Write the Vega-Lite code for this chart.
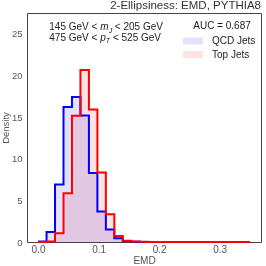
{
  "$schema": "https://vega.github.io/schema/vega-lite/v6.json",
  "width": 234,
  "height": 229,
  "autosize": {"type": "none"},
  "padding": {"left": 27, "top": 13, "right": 5, "bottom": 24},
  "background": "white",
  "title": {"text": "2-Ellipsiness: EMD, PYTHIA8", "anchor": "end", "fontSize": 11.5, "font": "Liberation Sans", "fontWeight": "normal", "color": "#333", "offset": 1.5},
  "config": {
    "font": "Liberation Sans",
    "view": {"stroke": "#444", "strokeWidth": 1},
    "axis": {"grid": false, "ticks": false, "tickSize": 0, "domain": false, "labelFontSize": 10, "labelColor": "#555", "titleFontSize": 10, "titleColor": "#555", "titleFontWeight": "normal"},
    "legend": {"padding": 0, "titleFontSize": 10, "titleFontWeight": "normal", "titleColor": "#222", "titleAnchor": "middle", "titleAlign": "center", "labelFontSize": 10, "labelColor": "#222", "symbolType": "M-2,-0.7H2V0.7H-2Z", "symbolSize": 100, "symbolStrokeWidth": 0, "labelOffset": 14, "rowPadding": 3.5, "titlePadding": 5}
  },
  "datasets": {
    "hist": [
      {"jet": "QCD Jets", "start": 0.000, "end": 0.014, "density": 0.05},
      {"jet": "QCD Jets", "start": 0.014, "end": 0.028, "density": 1.2},
      {"jet": "QCD Jets", "start": 0.028, "end": 0.042, "density": 6.9},
      {"jet": "QCD Jets", "start": 0.042, "end": 0.056, "density": 16.2},
      {"jet": "QCD Jets", "start": 0.056, "end": 0.070, "density": 17.4},
      {"jet": "QCD Jets", "start": 0.070, "end": 0.084, "density": 15.2},
      {"jet": "QCD Jets", "start": 0.084, "end": 0.098, "density": 8.3},
      {"jet": "QCD Jets", "start": 0.098, "end": 0.112, "density": 3.65},
      {"jet": "QCD Jets", "start": 0.112, "end": 0.126, "density": 1.5},
      {"jet": "QCD Jets", "start": 0.126, "end": 0.140, "density": 0.45},
      {"jet": "QCD Jets", "start": 0.140, "end": 0.154, "density": 0.12},
      {"jet": "QCD Jets", "start": 0.154, "end": 0.168, "density": 0.03},
      {"jet": "QCD Jets", "start": 0.168, "end": 0.182, "density": 0},
      {"jet": "QCD Jets", "start": 0.182, "end": 0.196, "density": 0},
      {"jet": "QCD Jets", "start": 0.196, "end": 0.210, "density": 0},
      {"jet": "QCD Jets", "start": 0.210, "end": 0.224, "density": 0},
      {"jet": "QCD Jets", "start": 0.224, "end": 0.238, "density": 0},
      {"jet": "QCD Jets", "start": 0.238, "end": 0.252, "density": 0},
      {"jet": "QCD Jets", "start": 0.252, "end": 0.266, "density": 0},
      {"jet": "QCD Jets", "start": 0.266, "end": 0.280, "density": 0},
      {"jet": "QCD Jets", "start": 0.280, "end": 0.294, "density": 0},
      {"jet": "QCD Jets", "start": 0.294, "end": 0.308, "density": 0},
      {"jet": "QCD Jets", "start": 0.308, "end": 0.322, "density": 0},
      {"jet": "QCD Jets", "start": 0.322, "end": 0.336, "density": 0},
      {"jet": "QCD Jets", "start": 0.336, "end": 0.350, "density": 0},
      {"jet": "Top Jets", "start": 0.000, "end": 0.014, "density": 0},
      {"jet": "Top Jets", "start": 0.014, "end": 0.028, "density": 0.06},
      {"jet": "Top Jets", "start": 0.028, "end": 0.042, "density": 1.05},
      {"jet": "Top Jets", "start": 0.042, "end": 0.056, "density": 5.85},
      {"jet": "Top Jets", "start": 0.056, "end": 0.070, "density": 15.15},
      {"jet": "Top Jets", "start": 0.070, "end": 0.084, "density": 20.65},
      {"jet": "Top Jets", "start": 0.084, "end": 0.098, "density": 15.9},
      {"jet": "Top Jets", "start": 0.098, "end": 0.112, "density": 8.35},
      {"jet": "Top Jets", "start": 0.112, "end": 0.126, "density": 3.33},
      {"jet": "Top Jets", "start": 0.126, "end": 0.140, "density": 0.72},
      {"jet": "Top Jets", "start": 0.140, "end": 0.154, "density": 0.15},
      {"jet": "Top Jets", "start": 0.154, "end": 0.168, "density": 0.05},
      {"jet": "Top Jets", "start": 0.168, "end": 0.182, "density": 0.02},
      {"jet": "Top Jets", "start": 0.182, "end": 0.196, "density": 0},
      {"jet": "Top Jets", "start": 0.196, "end": 0.210, "density": 0},
      {"jet": "Top Jets", "start": 0.210, "end": 0.224, "density": 0},
      {"jet": "Top Jets", "start": 0.224, "end": 0.238, "density": 0},
      {"jet": "Top Jets", "start": 0.238, "end": 0.252, "density": 0},
      {"jet": "Top Jets", "start": 0.252, "end": 0.266, "density": 0},
      {"jet": "Top Jets", "start": 0.266, "end": 0.280, "density": 0},
      {"jet": "Top Jets", "start": 0.280, "end": 0.294, "density": 0},
      {"jet": "Top Jets", "start": 0.294, "end": 0.308, "density": 0},
      {"jet": "Top Jets", "start": 0.308, "end": 0.322, "density": 0},
      {"jet": "Top Jets", "start": 0.322, "end": 0.336, "density": 0},
      {"jet": "Top Jets", "start": 0.336, "end": 0.350, "density": 0}
    ]
  },
  "layer": [
    {
      "data": {"name": "hist"},
      "mark": {"type": "rect", "blend": "multiply"},
      "encoding": {
        "x": {"field": "start", "type": "quantitative", "scale": {"domain": [-0.0183, 0.3683], "nice": false, "zero": false}, "axis": {"values": [0, 0.1, 0.2, 0.3], "format": ".1f", "title": "EMD", "labelPadding": 2, "titlePadding": 1}},
        "x2": {"field": "end"},
        "y": {"field": "density", "type": "quantitative", "scale": {"domain": [0, 27.5], "nice": false}, "axis": {"values": [0, 5, 10, 15, 20, 25], "title": "Density", "labelPadding": 5, "titlePadding": 1, "labelFontSize": 9.5, "titleFontSize": 9.5}},
        "fill": {"field": "jet", "type": "nominal", "scale": {"domain": ["QCD Jets", "Top Jets"], "range": ["#e2e2ff", "#ffe2e2"]}, "legend": {"title": "AUC = 0.687", "orient": "none", "legendX": 161, "legendY": 8}}
      }
    },
    {
      "data": {"name": "hist"},
      "transform": [{"fold": ["start", "end"], "as": ["side", "edge"]}],
      "mark": {"type": "line", "strokeWidth": 2, "strokeJoin": "miter", "strokeCap": "butt"},
      "encoding": {
        "x": {"field": "edge", "type": "quantitative"},
        "y": {"field": "density", "type": "quantitative"},
        "stroke": {"field": "jet", "type": "nominal", "scale": {"domain": ["QCD Jets", "Top Jets"], "range": ["#0000ff", "#ff0000"]}, "legend": null},
        "order": [{"field": "edge", "type": "quantitative"}, {"field": "side", "type": "nominal"}]
      }
    },
    {
      "data": {"values": [{"x": 0.098, "y": 25.4, "t": "145 GeV <"}, {"x": 0.098, "y": 24.14, "t": "475 GeV <"}]},
      "mark": {"type": "text", "align": "right", "baseline": "alphabetic", "fontSize": 10, "color": "#222"},
      "encoding": {"x": {"field": "x", "type": "quantitative"}, "y": {"field": "y", "type": "quantitative"}, "text": {"field": "t"}}
    },
    {
      "data": {"values": [{"x": 0.1027, "y": 25.4, "t": "m"}, {"x": 0.1027, "y": 24.14, "t": "p"}]},
      "mark": {"type": "text", "align": "left", "baseline": "alphabetic", "fontSize": 10, "fontStyle": "italic", "color": "#222"},
      "encoding": {"x": {"field": "x", "type": "quantitative"}, "y": {"field": "y", "type": "quantitative"}, "text": {"field": "t"}}
    },
    {
      "data": {"values": [{"x": 0.1167, "y": 25.1, "t": "J"}, {"x": 0.1119, "y": 23.84, "t": "T"}]},
      "mark": {"type": "text", "align": "left", "baseline": "alphabetic", "fontSize": 7, "fontStyle": "italic", "color": "#222"},
      "encoding": {"x": {"field": "x", "type": "quantitative"}, "y": {"field": "y", "type": "quantitative"}, "text": {"field": "t"}}
    },
    {
      "data": {"values": [{"x": 0.1268, "y": 25.4, "t": "< 205 GeV"}, {"x": 0.1236, "y": 24.14, "t": "< 525 GeV"}]},
      "mark": {"type": "text", "align": "left", "baseline": "alphabetic", "fontSize": 10, "color": "#222"},
      "encoding": {"x": {"field": "x", "type": "quantitative"}, "y": {"field": "y", "type": "quantitative"}, "text": {"field": "t"}}
    }
  ]
}
